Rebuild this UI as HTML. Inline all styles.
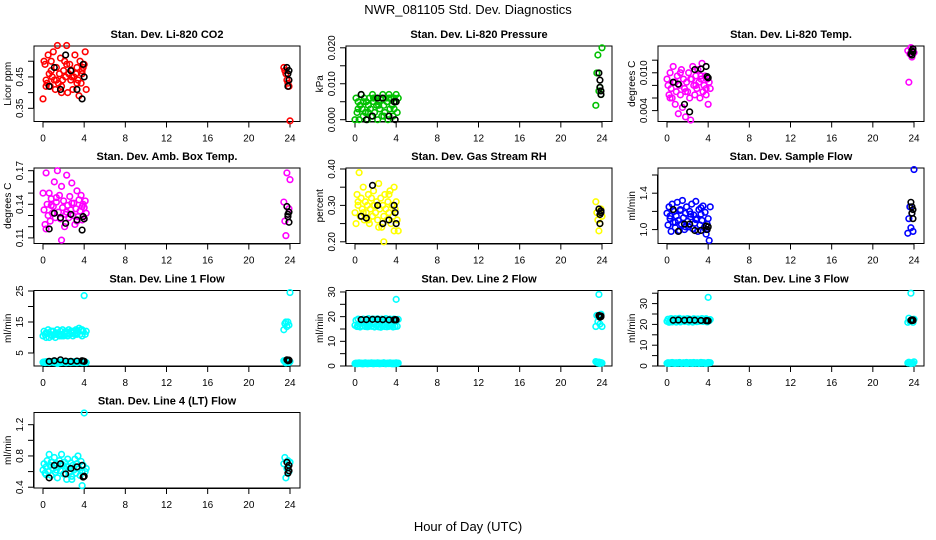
<!DOCTYPE html>
<html><head><meta charset="utf-8"><style>
html,body{margin:0;padding:0;background:#fff;}
svg{display:block;font-family:"Liberation Sans",sans-serif;}
</style></head><body>
<svg id="chart" width="936" height="540" viewBox="0 0 936 540">
<text x="468" y="14" text-anchor="middle" font-size="13">NWR_081105  Std. Dev. Diagnostics</text>
<text x="468" y="531" text-anchor="middle" font-size="13">Hour of Day (UTC)</text>
</svg>
<script>
const xTicks = [0,4,8,12,16,20,24];
const xColored = [0.0,0.1,0.2,0.3,0.4,0.5,0.6,0.7,0.8,0.9,1.0,1.1,1.2,1.3,1.4,1.5,1.6,1.7,1.8,1.9,2.0,2.1,2.2,2.3,2.4,2.5,2.6,2.7,2.8,2.9,3.0,3.1,3.2,3.3,3.4,3.5,3.6,3.7,3.8,3.9,4.0,4.1,4.2,0.3,0.8,1.3,1.8,2.3,2.8,3.3,3.8,23.4,23.5,23.6,23.7,23.8,23.9,24.0];
const xBlack = [0.6,1.1,1.7,2.2,2.7,3.3,3.8,3.9,4.0,23.7,23.8,23.8,23.9,23.9];

const titles = ["Stan. Dev. Li-820 CO2","Stan. Dev. Li-820 Pressure","Stan. Dev. Li-820 Temp.","Stan. Dev. Amb. Box Temp.","Stan. Dev. Gas Stream RH","Stan. Dev. Sample Flow","Stan. Dev. Line 1 Flow","Stan. Dev. Line 2 Flow","Stan. Dev. Line 3 Flow","Stan. Dev. Line 4 (LT) Flow"];
const yTitles = ["Licor ppm","kPa","degrees C","degrees C","percent","ml/min","ml/min","ml/min","ml/min","ml/min"];
const colors = ["#ff0000","#00c000","#ff00ff","#ff00ff","#ffff00","#0000ff","#00ffff","#00ffff","#00ffff","#00ffff"];
const yDomains = [[0.308,0.5485],[-0.0005,0.0205],[0.00227,0.01425],[0.105,0.1724],[0.1953,0.4027],[0.847,1.677],[0.8,25.16],[0,30.6],[0,36.3],[0.39,1.356]];
const yTicks = [[0.35,0.40,0.45,0.50],[0,0.005,0.010,0.015,0.020],[0.004,0.006,0.008,0.010,0.012],[0.11,0.12,0.13,0.14,0.15,0.16,0.17],[0.20,0.25,0.30,0.35,0.40],[1.0,1.2,1.4,1.6],[5,10,15,20,25],[0,5,10,15,20,25,30],[0,5,10,15,20,25,30,35],[0.4,0.6,0.8,1.0,1.2]];
const yTickLabels = [["0.35","","0.45",""],["0.000","","0.010","","0.020"],["0.004","","","0.010",""],["0.11","","","0.14","","","0.17"],["0.20","","0.30","","0.40"],["1.0","","1.4",""],["5","","15","","25"],["0","","10","","20","","30"],["0","","10","","20","","30",""],["0.4","","0.8","","1.2"]];

const yCO2 = [0.38,0.50,0.49,0.44,0.43,0.52,0.46,0.42,0.50,0.45,0.53,0.44,0.41,0.48,0.55,0.43,0.46,0.51,0.42,0.44,0.47,0.50,0.45,0.55,0.40,0.46,0.49,0.44,0.47,0.41,0.45,0.52,0.46,0.48,0.44,0.39,0.50,0.43,0.46,0.48,0.49,0.53,0.41,0.42,0.47,0.44,0.40,0.49,0.45,0.43,0.47,0.48,0.47,0.46,0.44,0.43,0.42,0.31];
const bCO2 = [0.42,0.48,0.41,0.52,0.47,0.41,0.38,0.49,0.45,0.48,0.46,0.42,0.44,0.47];
const yPres = [0.000,0.006,0.002,0.005,0.000,0.004,0.007,0.003,0.001,0.006,0.002,0.005,0.000,0.004,0.006,0.003,0.001,0.007,0.005,0.002,0.006,0.004,0.000,0.005,0.003,0.006,0.001,0.007,0.004,0.002,0.006,0.005,0.000,0.007,0.003,0.006,0.004,0.001,0.006,0.005,0.007,0.002,0.006,0.003,0.005,0.002,0.006,0.004,0.001,0.006,0.003,0.004,0.013,0.018,0.008,0.009,0.007,0.020];
const bPres = [0.007,0.000,0.001,0.006,0.006,0.001,0.005,0.000,0.005,0.013,0.011,0.009,0.008,0.007];
const yTemp = [0.0090,0.0080,0.0065,0.0100,0.0075,0.0060,0.0110,0.0085,0.0050,0.0070,0.0095,0.0035,0.0080,0.0065,0.0105,0.0045,0.0090,0.0075,0.0030,0.0085,0.0070,0.0100,0.0060,0.0025,0.0090,0.0110,0.0080,0.0065,0.0095,0.0075,0.0105,0.0085,0.0060,0.0090,0.0115,0.0070,0.0080,0.0095,0.0065,0.0090,0.0050,0.0085,0.0075,0.0060,0.0085,0.0100,0.0070,0.0090,0.0080,0.0095,0.0075,0.0135,0.0085,0.0130,0.0140,0.0125,0.0138,0.0132];
const bTemp = [0.0085,0.0082,0.0050,0.0038,0.0105,0.0106,0.0110,0.0094,0.0092,0.0130,0.0135,0.0128,0.0138,0.0133];
const yAmb = [0.150,0.135,0.122,0.168,0.140,0.130,0.150,0.125,0.145,0.132,0.138,0.160,0.128,0.142,0.170,0.133,0.148,0.127,0.156,0.137,0.143,0.120,0.131,0.166,0.139,0.128,0.147,0.135,0.159,0.130,0.141,0.122,0.136,0.152,0.129,0.144,0.134,0.148,0.126,0.140,0.137,0.143,0.132,0.118,0.139,0.146,0.108,0.133,0.141,0.125,0.138,0.142,0.125,0.112,0.168,0.131,0.136,0.162];
const bAmb = [0.118,0.132,0.128,0.123,0.131,0.126,0.117,0.129,0.127,0.138,0.131,0.129,0.124,0.133];
const yRH = [0.28,0.25,0.33,0.30,0.39,0.27,0.32,0.29,0.35,0.26,0.31,0.28,0.30,0.33,0.25,0.29,0.32,0.27,0.34,0.30,0.28,0.31,0.26,0.36,0.29,0.32,0.24,0.30,0.27,0.33,0.29,0.26,0.31,0.28,0.34,0.25,0.30,0.27,0.35,0.29,0.31,0.26,0.23,0.31,0.28,0.26,0.30,0.24,0.20,0.33,0.23,0.31,0.28,0.26,0.23,0.25,0.29,0.27];
const bRH = [0.27,0.265,0.355,0.30,0.25,0.26,0.30,0.28,0.25,0.29,0.275,0.25,0.285,0.28];
const ySample = [1.18,1.05,1.25,1.12,0.98,1.28,1.08,1.20,1.02,1.15,1.30,1.10,0.99,1.22,1.06,1.32,1.13,1.00,1.18,1.25,1.09,1.03,1.20,1.14,1.28,1.01,1.16,1.07,1.31,1.12,0.98,1.22,1.05,1.17,1.10,1.26,1.02,1.19,0.95,1.06,1.12,0.88,1.25,1.15,1.08,1.21,1.03,1.17,1.11,1.24,1.00,0.96,1.12,1.25,1.02,1.18,0.98,1.66];
const bSample = [1.22,0.98,1.06,1.06,0.99,0.99,1.04,1.00,1.03,1.30,1.18,1.25,1.12,1.22];
const yL1 = [10.5,12,11,10,11.5,12.5,10,11,12,10.5,12,11,10,11.5,12.5,11,10.5,12,11,12.5,10.5,11.5,12,11,10.5,12.5,11,12,11.5,10.5,12,11,12.5,11.5,12,13,11,12.5,10.5,12,23.5,11,12,11.5,12,11,10.5,11.5,12,11,12.5,12.5,14.5,15,13.5,15,14,24.5];
const yL1b = [2.0,2.1,1.9,2.2,2.0,2.1,1.9,2.0,2.2,2.1,2.0,1.9,2.1,2.2,1.6,2.0,2.1,1.9,2.0,2.2,2.1,2.0,1.9,2.1,2.0,2.2,2.0,1.9,2.1,2.0,2.2,2.0,2.1,1.9,2.0,2.1,2.2,2.0,1.9,2.1,2.0,2.1,1.9,2.0,2.1,2.2,2.0,1.9,2.1,2.0,2.2,2.5,2.2,1.8,2.0,2.1,1.9,2.2];
const bL1 = [2.3,2.5,2.8,2.4,2.3,2.4,2.5,2.4,2.3,2.8,2.7,2.5,2.6,2.7];
const yL2 = [16.5,18.5,16,19,17,15.8,18.8,16.2,19,17.5,16,18.6,15.9,19.2,16.4,18.7,16.1,19,17.2,15.8,18.9,16.3,19.1,16,18.5,15.7,19,16.2,18.8,16,19.2,15.9,18.6,16.1,19,16.3,18.8,15.8,19,16,27,16.1,18.9,16.2,18.7,16,19,15.9,18.8,16.1,19,16,20.5,18,29,17,21,16];
const yL2b = [1.0,1.2,0.9,1.1,1.3,1.0,1.2,0.9,1.1,1.0,1.3,1.1,0.9,1.2,1.0,1.1,1.3,1.0,0.9,1.2,1.1,1.0,1.3,1.2,0.9,1.1,1.0,1.2,1.3,1.0,0.9,1.1,1.2,1.0,1.3,1.1,0.9,1.2,1.0,1.1,1.3,1.0,1.2,1.1,0.9,1.0,1.2,1.1,1.3,1.0,0.9,1.8,1.5,1.2,1.6,1.0,1.4,1.2];
const bL2 = [18.8,18.8,18.9,18.9,18.8,18.7,18.7,18.8,18.7,20.5,20.2,19.8,20.3,20.0];
const yL3 = [21.5,22.5,21,22,22.8,21.2,22.3,21.6,22.7,21.1,22.4,21.8,22.9,21.3,22.2,21.7,22.6,21.4,22.1,21.9,22.8,21.2,22.5,21.6,22.3,21.1,22.7,21.8,22.4,21.3,22.6,21.5,22.2,21.9,22.8,21.4,22.1,21.7,22.5,21.2,33,21.8,22.3,21.5,22.6,21.2,22.4,21.9,22.1,21.6,22.7,21,23,21.5,35,22,21,22.5];
const yL3b = [1.3,1.6,1.2,1.5,1.4,1.7,1.3,1.5,1.2,1.6,1.4,1.3,1.7,1.5,1.2,1.4,1.6,1.3,1.5,1.7,1.2,1.4,1.6,1.3,1.5,1.2,1.7,1.4,1.3,1.6,1.5,1.2,1.4,1.7,1.3,1.5,1.6,1.2,1.4,1.3,1.7,1.5,1.6,1.4,1.3,1.5,1.2,1.6,1.4,1.7,1.3,1.5,1.8,1.4,1.2,1.6,1.3,2.0];
const bL3 = [22,22.1,22,22.1,22,21.9,21.8,21.8,21.7,22,22.2,21.8,21.9,22.1];
const yL4 = [0.62,0.70,0.58,0.66,0.74,0.60,0.82,0.68,0.55,0.72,0.64,0.78,0.59,0.70,0.52,0.66,0.74,0.61,0.82,0.69,0.57,0.72,0.63,0.50,0.76,0.66,0.59,0.71,0.54,0.68,0.62,0.76,0.58,0.70,0.80,0.64,0.55,0.73,0.42,0.68,1.35,0.60,0.64,0.56,0.72,0.62,0.68,0.66,0.50,0.70,0.60,0.70,0.78,0.52,0.64,0.74,0.60,0.72];
const bL4 = [0.52,0.68,0.70,0.57,0.64,0.66,0.68,0.53,0.54,0.72,0.65,0.58,0.61,0.68];

const yColored = [yCO2,yPres,yTemp,yAmb,yRH,ySample,yL1,yL2,yL3,yL4];
const yColored2 = [null,null,null,null,null,null,yL1b,yL2b,yL3b,null];
const yBlackVals = [bCO2,bPres,bTemp,bAmb,bRH,bSample,bL1,bL2,bL3,bL4];

const NS = "http://www.w3.org/2000/svg";
const svg = document.getElementById('chart');
const rowTops = [46,168,290.5,412.5];
const boxH = 75.5;
function mk(tag, attrs, parent){const e=document.createElementNS(NS,tag);for(const k in attrs)e.setAttribute(k,attrs[k]);parent.appendChild(e);return e;}

for(let p=0;p<10;p++){
  const col=p%3,row=Math.floor(p/3);
  const x0=43+312*col, pxh=247/24;
  const left=x0-9, right=x0+257, top=rowTops[row], bottom=top+boxH;
  const [d0,d1]=yDomains[p];
  const xs=h=>x0+h*pxh;
  const ys=v=>bottom-(v-d0)/(d1-d0)*boxH;
  const g=mk('g',{},svg);
  
  
  const t=mk('text',{x:(left+right)/2,y:top-8,'text-anchor':'middle','font-size':'11','font-weight':'bold'},g);
  
  
  t.textContent=titles[p];
  const box=mk('rect',{x:left,y:top,width:right-left,height:boxH,fill:'none',stroke:'#000','stroke-width':'1'},g);
  
  
  // x axis
  const xa=mk('g',{},g);
  
  
  mk('line',{x1:xs(0),x2:xs(24),y1:bottom+0.5,y2:bottom+0.5,stroke:'#000'},xa);
  xTicks.forEach(v=>{
    mk('line',{x1:xs(v),x2:xs(v),y1:bottom,y2:bottom+6,stroke:'#000'},xa);
    const l=mk('text',{x:xs(v),y:bottom+20,'text-anchor':'middle','font-size':'10'},xa);
    
    
    l.textContent=v;
  });
  // y axis
  const ya=mk('g',{},g);
  
  
  const tk=yTicks[p];
  mk('line',{x1:left-0.5,x2:left-0.5,y1:ys(tk[0]),y2:ys(tk[tk.length-1]),stroke:'#000'},ya);
  tk.forEach((v,i)=>{
    mk('line',{x1:left-6,x2:left,y1:ys(v),y2:ys(v),stroke:'#000'},ya);
    const s=yTickLabels[p][i];
    if(s){
      const l=mk('text',{x:0,y:0,'text-anchor':'middle','font-size':'10',transform:`translate(${left-11},${ys(v)}) rotate(-90)`},ya);
      
      
      l.textContent=s;
    }
  });
  const yt=mk('text',{x:0,y:0,'text-anchor':'middle','font-size':'10',transform:`translate(${left-23},${(top+bottom)/2}) rotate(-90)`},g);
  
  
  yt.textContent=yTitles[p];
  // points
  const drawPts=(xarr,yarr,color,name)=>{
    const pg=mk('g',{},g);
    
    
    yarr.forEach((v,i)=>{
      const c=mk('circle',{cx:xs(xarr[i]),cy:ys(v),r:'2.8',fill:'none',stroke:color,'stroke-width':'1.6'},pg);
      
      
    });
  };
  drawPts(xColored,yColored[p],colors[p],'series-points');
  if(yColored2[p]) drawPts(xColored,yColored2[p],colors[p],'series-points-low');
  drawPts(xBlack,yBlackVals[p],'#000','mean-points');
}
</script>
</body></html>
